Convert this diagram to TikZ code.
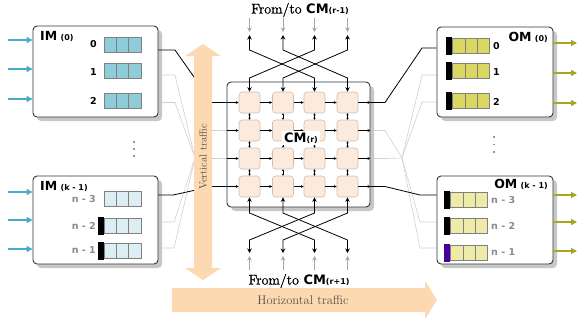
\documentclass[tikz,border=0pt]{standalone}
\usepackage{fontspec}
\newfontfamily\labfont{DejaVu Sans}
\newfontfamily\stagefont{Latin Modern Roman}[FakeBold=1.2]
\usetikzlibrary{arrows.meta,shadows,calc}

\definecolor{peach}{HTML}{FDD9B2}
\definecolor{inblue}{HTML}{4BAACB}
\definecolor{imdark}{HTML}{8ECCDA}
\definecolor{imlight}{HTML}{DCEEF4}
\definecolor{omdark}{HTML}{DAD762}
\definecolor{omlight}{HTML}{EEEBA8}
\definecolor{outolive}{HTML}{AAA420}
\definecolor{cellfill}{HTML}{FCEADD}
\definecolor{celledge}{HTML}{CDBEB2}
\definecolor{wire}{HTML}{D0D0D0}
\definecolor{labgray}{HTML}{8A8A8A}
\definecolor{txtgray}{HTML}{5A5048}
\definecolor{prio}{HTML}{440099}

\newcommand\lbig[1]{{\labfont\bfseries\fontsize{12.5}{13}\selectfont #1}}
\newcommand\lsmall[1]{{\labfont\bfseries\fontsize{8}{9}\selectfont #1}}
\newcommand\lnum[1]{{\labfont\bfseries\fontsize{9.5}{10}\selectfont #1}}
\newcommand\stagelab[1]{{\stagefont\fontsize{14}{16}\selectfont From/to }%
  {\labfont\bfseries\fontsize{13}{14}\selectfont CM}{\labfont\bfseries\fontsize{8}{9}\selectfont #1}}

\tikzset{
  module/.style={draw=black!80, line width=0.9pt, rounded corners=4pt, fill=white,
    drop shadow={shadow xshift=4pt, shadow yshift=-4pt, fill=black!22, opacity=1}},
  qcells/.style={draw=black!50, fill=#1, minimum width=37pt, minimum height=15pt,
    inner sep=0pt, line width=0.6pt,
    path picture={\foreach \k in {1,2}{\draw[black!50, line width=0.6pt]
      ([xshift=\k*12.333pt]path picture bounding box.south west) --
      ([xshift=\k*12.333pt]path picture bounding box.north west);}}},
  headbar/.style={fill=#1, draw=none, minimum width=6pt, minimum height=18pt, inner sep=0pt},
  cmcell/.style={draw=celledge, fill=cellfill, rounded corners=3pt, minimum size=21pt,
    inner sep=0pt, line width=0.6pt},
  inarr/.style={draw=inblue, line width=1.3pt, -{Triangle[length=6pt,width=6pt]}},
  outarr/.style={draw=outolive, line width=1.3pt, -{Triangle[length=6pt,width=6pt]}},
  harr/.style={draw=black, line width=0.6pt, -{Stealth[length=3pt,width=3pt]}},
  varr/.style={draw=black, line width=0.4pt, {Stealth[length=2pt,width=2.4pt]}-{Stealth[length=2pt,width=2.4pt]}},
  xarr/.style={draw=black, line width=0.8pt, {Stealth[length=4.5pt,width=4.5pt]}-{Stealth[length=4.5pt,width=4.5pt]}},
  garr/.style={draw=black!35, line width=0.8pt, -{Stealth[length=4.5pt,width=4.5pt]}},
  link/.style={draw=black, line width=0.8pt},
  glink/.style={draw=wire, line width=0.6pt},
  numlab/.style={inner sep=0pt, anchor=east},
  graylab/.style={inner sep=0pt, anchor=east, text=labgray},
}

\begin{document}
\begin{tikzpicture}[x=1pt,y=-1pt]
\useasboundingbox (0,0) rectangle (577,322);

% ---------- passive wiring between the modules ----------
\coordinate (vl) at (195,158);
\coordinate (vr) at (402,158);
\draw[glink] (158,75) -- (175,75) -- (vl);
\draw[glink] (158,102.5) -- (175,102.5) -- (vl);
\draw[glink] (158,222) -- (174,222) -- (vl);
\draw[glink] (158,248) -- (174,248) -- (vl);
\draw[glink] (vl) -- (212,130.5) -- (227,130.5);
\draw[glink] (vl) -- (212,158.5) -- (227,158.5);

\draw[glink] (370,130.5) -- (385,130.5) -- (vr);
\draw[glink] (370,158.5) -- (385,158.5) -- (vr);
\draw[glink] (vr) -- (422,75) -- (437,75);
\draw[glink] (vr) -- (422,102) -- (437,102);
\draw[glink] (vr) -- (420,222) -- (437,222);
\draw[glink] (vr) -- (420,248) -- (437,248);

% ---------- modules ----------
\node[module, minimum width=125pt, minimum height=91pt] (im0) at (95.5,71.5) {};
\node[module, minimum width=125pt, minimum height=88pt] (imk) at (95.5,220) {};
\node[module, minimum width=143pt, minimum height=125pt] (cm) at (298.5,144.5) {};
\node[module, minimum width=116pt, minimum height=90pt] (om0) at (495,72) {};
\node[module, minimum width=116pt, minimum height=88pt] (omk) at (495,220) {};

% input module 0
\node[anchor=base west, inner sep=0pt] (im0lab) at (40,40.5) {\lbig{IM} \lsmall{(0)}};
\node[qcells=imdark] (iq00) at (122.5,44.5) {};
\node[qcells=imdark] (iq01) at (122.5,71) {};
\node[qcells=imdark] (iq02) at (122.5,100.5) {};
\node[numlab] (in00) at (97,44.5) {\lnum{0}};
\node[numlab] (in01) at (97,72) {\lnum{1}};
\node[numlab] (in02) at (97,101) {\lnum{2}};

% input module k-1
\node[anchor=base west, inner sep=0pt] (imklab) at (40,190) {\lbig{IM} \lsmall{(k - 1)}};
\node[qcells=imlight] (iqk0) at (122.5,199) {};
\node[qcells=imlight] (iqk1) at (122.5,225.5) {};
\node[qcells=imlight] (iqk2) at (122.5,250.5) {};
\node[headbar=black] (ibk1) at (iqk1.west) [xshift=-3pt] {};
\node[headbar=black] (ibk2) at (iqk2.west) [xshift=-3pt] {};
\node[graylab] (ink0) at (96,199) {\lnum{n - 3}};
\node[graylab] (ink1) at (96,225.5) {\lnum{n - 2}};
\node[graylab] (ink2) at (96,250.5) {\lnum{n - 1}};

% output module 0
\node[anchor=base east, inner sep=0pt] (om0lab) at (548,41) {\lbig{OM} \lsmall{(0)}};
\node[qcells=omdark] (oq00) at (471,45.5) {};
\node[qcells=omdark] (oq01) at (471,71) {};
\node[qcells=omdark] (oq02) at (471,101) {};
\node[headbar=black] (ob00) at (oq00.west) [xshift=-3pt] {};
\node[headbar=black] (ob01) at (oq01.west) [xshift=-3pt] {};
\node[headbar=black] (ob02) at (oq02.west) [xshift=-3pt] {};
\node[anchor=west, inner sep=0pt] (on00) at (493,46) {\lnum{0}};
\node[anchor=west, inner sep=0pt] (on01) at (493,72) {\lnum{1}};
\node[anchor=west, inner sep=0pt] (on02) at (493,102) {\lnum{2}};

% output module k-1
\node[anchor=base east, inner sep=0pt] (omklab) at (548,188.5) {\lbig{OM} \lsmall{(k - 1)}};
\node[qcells=omlight] (oqk0) at (469,200) {};
\node[qcells=omlight] (oqk1) at (469,226) {};
\node[qcells=omlight] (oqk2) at (469,252.5) {};
\node[headbar=black] (obk0) at (oqk0.west) [xshift=-3pt] {};
\node[headbar=black] (obk1) at (oqk1.west) [xshift=-3pt] {};
\node[headbar=prio] (obk2) at (oqk2.west) [xshift=-3pt] {};
\node[anchor=west, inner sep=0pt, text=labgray] (onk0) at (491,200) {\lnum{n - 3}};
\node[anchor=west, inner sep=0pt, text=labgray] (onk1) at (491,226) {\lnum{n - 2}};
\node[anchor=west, inner sep=0pt, text=labgray] (onk2) at (491,252) {\lnum{n - 1}};

% elision dots
\foreach \yy [count=\i] in {142,149,156}{
  \node[fill=black!40, inner sep=0pt, minimum size=1.6pt] (dl\i) at (134,\yy) {};
}
\foreach \yy [count=\i] in {137,144.5,152}{
  \node[fill=black!40, inner sep=0pt, minimum size=1.6pt] (dr\i) at (494,\yy) {};
}

% input / output arrows
\foreach \yy [count=\i] in {40,69,99}{
  \coordinate (ia\i) at (8,\yy);
  \draw[inarr] (ia\i) -- (ia\i -| im0.west);
}
\foreach \yy [count=\i] in {192,220,249}{
  \coordinate (ib\i) at (8,\yy);
  \draw[inarr] (ib\i) -- (ib\i -| imk.west);
}
\foreach \yy [count=\i] in {43,73,103}{
  \coordinate (oa\i) at (577,\yy);
  \draw[outarr] (oa\i -| om0.east) -- (oa\i);
}
\foreach \yy [count=\i] in {195,222,251}{
  \coordinate (ob\i) at (577,\yy);
  \draw[outarr] (ob\i -| omk.east) -- (ob\i);
}

% ---------- central module: 4x4 grid ----------
\foreach \r/\yy in {1/102.5,2/130.5,3/158.5,4/186.5}{
  \foreach \c/\xx in {1/249.5,2/283,3/314.5,4/347.5}{
    \node[cmcell] (c-\r-\c) at (\xx,\yy) {};
  }
}
\foreach \r in {1,...,4}{
  \draw[harr] (cm.west |- c-\r-1) -- (c-\r-1.west);
  \draw[harr] (c-\r-1.east) -- (c-\r-2.west);
  \draw[harr] (c-\r-2.east) -- (c-\r-3.west);
  \draw[harr] (c-\r-3.east) -- (c-\r-4.west);
  \draw[harr] (c-\r-4.east) -- (cm.east |- c-\r-4);
}
\foreach \c in {1,...,4}{
  \draw[varr] (c-1-\c.south) -- (c-2-\c.north);
  \draw[varr] (c-2-\c.south) -- (c-3-\c.north);
  \draw[varr] (c-3-\c.south) -- (c-4-\c.north);
}
\node[fill=white, inner sep=2pt] (cmlab) at (301,138) {\labfont\bfseries\fontsize{13}{14}\selectfont CM\fontsize{8}{9}\selectfont(r)};

% ---------- active links ----------
\draw[link] (158,50) -- (175,50) -- (212,102.5) -- (cm.west |- c-1-1);
\draw[link] (158,195) -- (173,195) -- (212,186.5) -- (cm.west |- c-4-1);
\draw[link] (cm.east |- c-1-4) -- (385,102.5) -- (422,48) -- (om0.west |- 0,48);
\draw[link] (cm.east |- c-4-4) -- (385,186.5) -- (420,195) -- (omk.west |- 0,195);

% links to the neighbouring stages
\coordinate (hiA) at (0,50);
\coordinate (hiB) at (0,78);
\coordinate (loA) at (0,213);
\coordinate (loB) at (0,240);
\foreach \c/\xx in {1/249.5,2/283,3/314.5,4/347.5}{
  \coordinate (t\c) at (\xx,35);
  \coordinate (g\c) at (\xx,18);
  \coordinate (b\c) at (\xx,253);
  \coordinate (h\c) at (\xx,270);
  \draw[garr] (g\c) -- ($(g\c)+(0,14)$);
  \draw[garr] (h\c) -- ($(h\c)+(0,-14)$);
}
\foreach \a/\b in {1/3,3/1,2/4,4/2}{
  \draw[xarr] (t\b) -- (t\b |- hiA) -- (c-1-\a |- hiB) -- (c-1-\a.north);
  \draw[xarr] (b\b) -- (b\b |- loB) -- (c-4-\a |- loA) -- (c-4-\a.south);
}

% ---------- traffic directions ----------
\path[fill=peach] (194,56) -- (185,56) -- (203,44) -- (221,56) -- (212,56)
  -- (212,268) -- (221,268) -- (203,280) -- (185,268) -- (194,268) -- cycle;
\node[rotate=90, text=txtgray, font=\fontsize{10.5}{12}\selectfont] (vt) at (203,157) {Vertical traffic};
\path[fill=peach] (172,288) -- (425,288) -- (425,281) -- (437,300) -- (425,319)
  -- (425,312) -- (172,312) -- cycle;
\node[text=txtgray, font=\fontsize{12.5}{14}\selectfont] (ht) at (303,300) {Horizontal traffic};

% stage labels
\node[inner sep=0pt] (toplab) at (300,10) {\stagelab{(r-1)}};
\node[inner sep=0pt] (botlab) at (299,281) {\stagelab{(r+1)}};
\end{tikzpicture}
\end{document}
